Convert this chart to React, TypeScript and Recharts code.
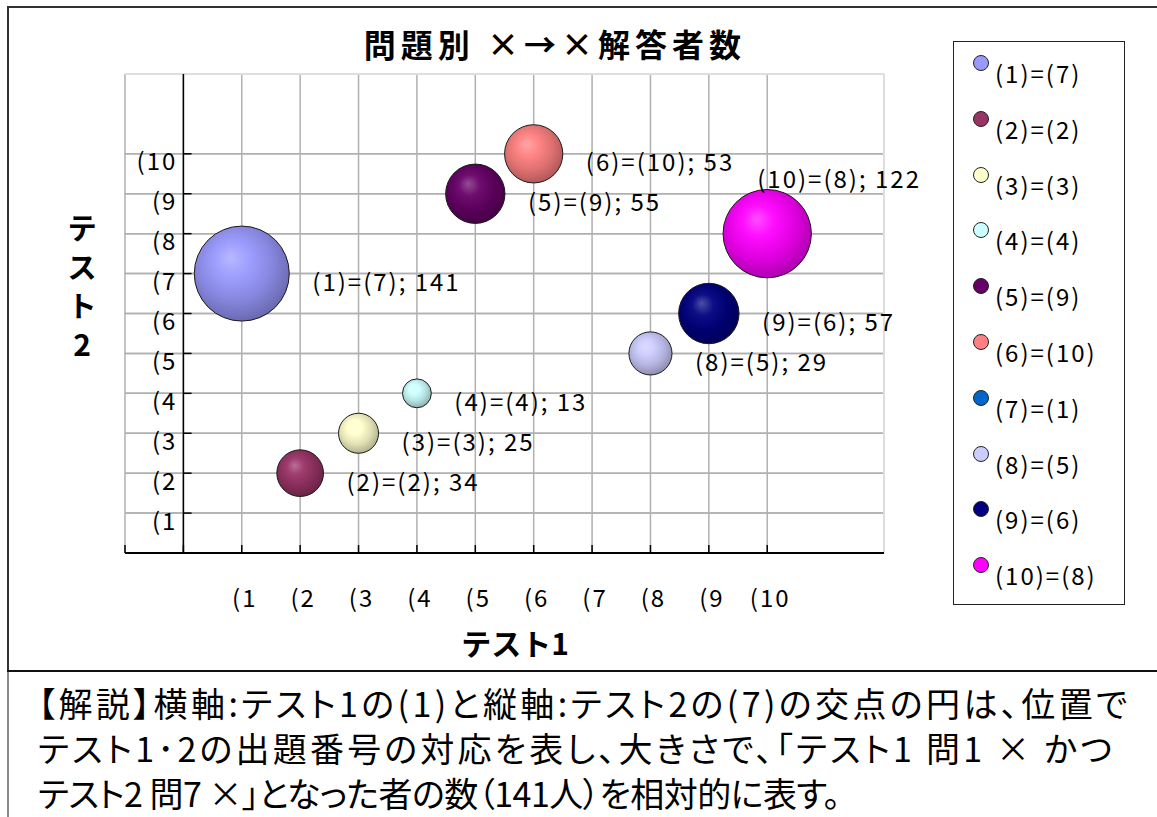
import React from "react";
import {
  ScatterChart,
  Scatter,
  XAxis,
  YAxis,
  ZAxis,
  CartesianGrid,
  ReferenceLine,
  LabelList,
} from "recharts";

// test1 question number -> test2 question number, with count of people wrong on both
const test1Questions = [1, 2, 3, 4, 5, 6, 7, 8, 9, 10];
const test2Questions = [7, 2, 3, 4, 9, 10, 1, 5, 6, 8];
const counts = [141, 34, 25, 13, 55, 53, 0, 29, 57, 122];
const colors = [
  "#9999ff",
  "#993366",
  "#ffffcc",
  "#ccffff",
  "#660066",
  "#ff8080",
  "#0066cc",
  "#ccccff",
  "#000080",
  "#ff00ff",
];
const labelSides = ["right", "right", "right", "right", "right", "right", "right", "right", "right", "above"];

const xGridTicks = [0, 1, 2, 3, 4, 5, 6, 7, 8, 9, 10];
const xTickMarks = [-1, 0, 1, 2, 3, 4, 5, 6, 7, 8, 9, 10];
const yGridTicks = [0, 1, 2, 3, 4, 5, 6, 7, 8, 9, 10];
const yTickMarks = [1, 2, 3, 4, 5, 6, 7, 8, 9, 10];
const tickLabels = ["(1", "(2", "(3", "(4", "(5", "(6", "(7", "(8", "(9", "(10"];

const explanation = [
  "【解説】横軸:テスト1の(1)と縦軸:テスト2の(7)の交点の円は、位置で",
  "テスト1･2の出題番号の対応を表し、大きさで、「テスト1 問1 × かつ",
  "テスト2 問7 ×」となった者の数（141人）を相対的に表す。",
];
const explanationSpacing = [3.4, 3.2, -0.5];

const FONT = '"Noto Sans CJK JP", "Noto Sans", sans-serif';

const seriesNames = test1Questions.map((q, i) => `(${q})=(${test2Questions[i]})`);
const series = test1Questions.map((q, i) => ({
  name: seriesNames[i],
  color: colors[i],
  side: labelSides[i],
  data: [{ x: q, y: test2Questions[i], z: counts[i], label: `${seriesNames[i]}; ${counts[i]}` }],
}));
const yLabelData = yTickMarks.map((v, i) => ({ x: 0, y: v, label: tickLabels[i] }));

function shade(hex: string, t: number) {
  const n = parseInt(hex.slice(1), 16);
  const ch = [(n >> 16) & 255, (n >> 8) & 255, n & 255].map((c) =>
    Math.round(t >= 0 ? c + (255 - c) * t : c * (1 + t))
  );
  return "#" + ch.map((c) => c.toString(16).padStart(2, "0")).join("");
}

const Bubble = (idx: number) => (props: any) => {
  const { cx, cy, width } = props;
  const r = width / 2;
  if (!r || r < 0.5) return <g />;
  return (
    <circle cx={cx} cy={cy} r={r} fill={`url(#bub${idx})`} stroke="#1a1a1a" strokeWidth={1} />
  );
};

const bubbleLabel = (side: string) => (props: any) => {
  const { x, y, width, height, value } = props;
  const r = width / 2;
  if (!r || r < 0.5) return null;
  const cx = x + width / 2;
  const cy = y + height / 2;
  const tx = side === "above" ? cx - 10 : cx + r + 23;
  const ty = side === "above" ? cy - r - 12 : cy + 7;
  return (
    <text x={tx} y={ty} dominantBaseline="central" fontFamily={FONT} fontSize={24} letterSpacing={2} fill="#000">
      {value}
    </text>
  );
};

const yTickLabel = (props: any) => {
  const { x, y, width, height, value } = props;
  return (
    <text
      x={x + width / 2 - 6}
      y={y + height / 2 + 6}
      textAnchor="end"
      dominantBaseline="central"
      fontFamily={FONT}
      fontSize={24}
      letterSpacing={2}
      fill="#000"
    >
      {value}
    </text>
  );
};

const xTick = (props: any) => {
  const { x, y, payload } = props;
  const i = test1Questions.indexOf(payload.value);
  if (i < 0) return <g />;
  return (
    <text x={x + 3} y={y} textAnchor="middle" dominantBaseline="central" fontFamily={FONT} fontSize={24} letterSpacing={2} fill="#000">
      {tickLabels[i]}
    </text>
  );
};

export default function App() {
  return (
    <div style={{ position: "absolute", left: 0, top: 0, width: 1157, height: 817, background: "#fff", fontFamily: FONT, overflow: "hidden" }}>
      {/* frame */}
      <div style={{ position: "absolute", left: 7, top: 6, width: 1160, height: 2, background: "#333" }} />
      <div style={{ position: "absolute", left: 7, top: 6, width: 2, height: 666, background: "#333" }} />
      <div style={{ position: "absolute", left: 7, top: 672, width: 2, height: 150, background: "#888" }} />
      <div style={{ position: "absolute", left: 7, top: 670, width: 1160, height: 2, background: "#111" }} />

      <div style={{ position: "absolute", left: 0, width: 1110, top: 21, textAlign: "center", fontSize: 32, fontWeight: 700, lineHeight: "44px", letterSpacing: 5 }}>
        問題別 ×→×解答者数
      </div>

      <ScatterChart width={1157} height={671} margin={{ top: 74, right: 273, bottom: 58, left: 125 }} style={{ position: "absolute", left: 0, top: 0 }}>
        <defs>
          {colors.map((c, i) => (
            <radialGradient key={i} id={`bub${i}`} cx="0.45" cy="0.42" r="0.6" fx="0.38" fy="0.33">
              <stop offset="0%" stopColor={shade(c, 0.3)} />
              <stop offset="30%" stopColor={shade(c, 0.05)} />
              <stop offset="65%" stopColor={shade(c, -0.12)} />
              <stop offset="100%" stopColor={shade(c, -0.32)} />
            </radialGradient>
          ))}
        </defs>
        <CartesianGrid stroke="#b0b0b0" strokeWidth={1.5} />
        <XAxis
          type="number"
          dataKey="x"
          domain={[-1, 12]}
          ticks={xGridTicks}
          interval={0}
          height={60}
          axisLine={false}
          tickLine={false}
          tickSize={0}
          tickMargin={43}
          tick={xTick}
          allowDataOverflow
        />
        <YAxis
          type="number"
          dataKey="y"
          domain={[0, 12]}
          ticks={yGridTicks}
          interval={0}
          width={0}
          axisLine={false}
          tickLine={false}
          tick={() => <g />}
          allowDataOverflow
        />
        <ZAxis zAxisId="bub" type="number" dataKey="z" domain={[0, 141]} range={[0, Math.PI * 47.5 * 47.5]} />
        <ZAxis zAxisId="lab" type="number" dataKey="z" range={[0, 0]} />

        {yGridTicks.map((v) => (
          <ReferenceLine key={`hg${v}`} y={v} stroke="#b0b0b0" strokeWidth={1.5} />
        ))}
        <ReferenceLine y={12} stroke="#dedede" strokeWidth={2} />
        <ReferenceLine x={12} stroke="#dedede" strokeWidth={2} />
        <ReferenceLine x={0} stroke="#000" strokeWidth={1.5} />
        <ReferenceLine y={0} stroke="#000" strokeWidth={2} />
        {xTickMarks.map((v) => (
          <ReferenceLine key={`xt${v}`} segment={[{ x: v, y: 0 }, { x: v, y: 0.2 }]} stroke="#000" strokeWidth={1.5} />
        ))}
        {yTickMarks.map((v) => (
          <ReferenceLine key={`yt${v}`} segment={[{ x: 0, y: v }, { x: 0.14, y: v }]} stroke="#000" strokeWidth={1.5} />
        ))}

        <Scatter data={yLabelData} zAxisId="lab" shape={() => <g />} isAnimationActive={false} legendType="none">
          <LabelList dataKey="label" content={yTickLabel} />
        </Scatter>

        {series.map((s, i) => (
          <Scatter key={s.name} name={s.name} data={s.data} zAxisId="bub" fill={s.color} shape={Bubble(i)} isAnimationActive={false}>
            <LabelList dataKey="label" content={bubbleLabel(s.side)} />
          </Scatter>
        ))}
      </ScatterChart>

      {/* axis titles */}
      <div style={{ position: "absolute", left: 415, width: 200, top: 622, textAlign: "center", fontSize: 30, fontWeight: 700, lineHeight: "40px" }}>
        テスト1
      </div>
      <div
        style={{
          position: "absolute",
          left: 62,
          width: 40,
          top: 213,
          writingMode: "vertical-rl",
          textOrientation: "upright",
          fontSize: 30,
          fontWeight: 700,
          lineHeight: "40px",
          letterSpacing: 9,
        }}
      >
        テスト2
      </div>

      {/* legend */}
      <div style={{ position: "absolute", left: 953, top: 41, width: 170, height: 562, border: "1px solid #222", background: "#fff" }}>
        {series.map((s, i) => (
          <div key={s.name} style={{ position: "absolute", left: 0, top: 31 + i * 55.8 - 20, height: 40, width: 170 }}>
            <div style={{ position: "absolute", left: 19, top: 2, width: 14, height: 14, borderRadius: "50%", background: s.color, border: "1px solid #222" }} />
            <div style={{ position: "absolute", left: 41, top: 0, lineHeight: "40px", fontSize: 24, letterSpacing: 2 }}>{s.name}</div>
          </div>
        ))}
      </div>

      {/* explanation */}
      <div style={{ position: "absolute", left: 38, top: 680, fontSize: 34, lineHeight: "45px", whiteSpace: "nowrap", fontFeatureSettings: '"palt"' }}>
        {explanation.map((line, i) => (
          <div key={i} style={{ letterSpacing: explanationSpacing[i] }}>{line}</div>
        ))}
      </div>
    </div>
  );
}
